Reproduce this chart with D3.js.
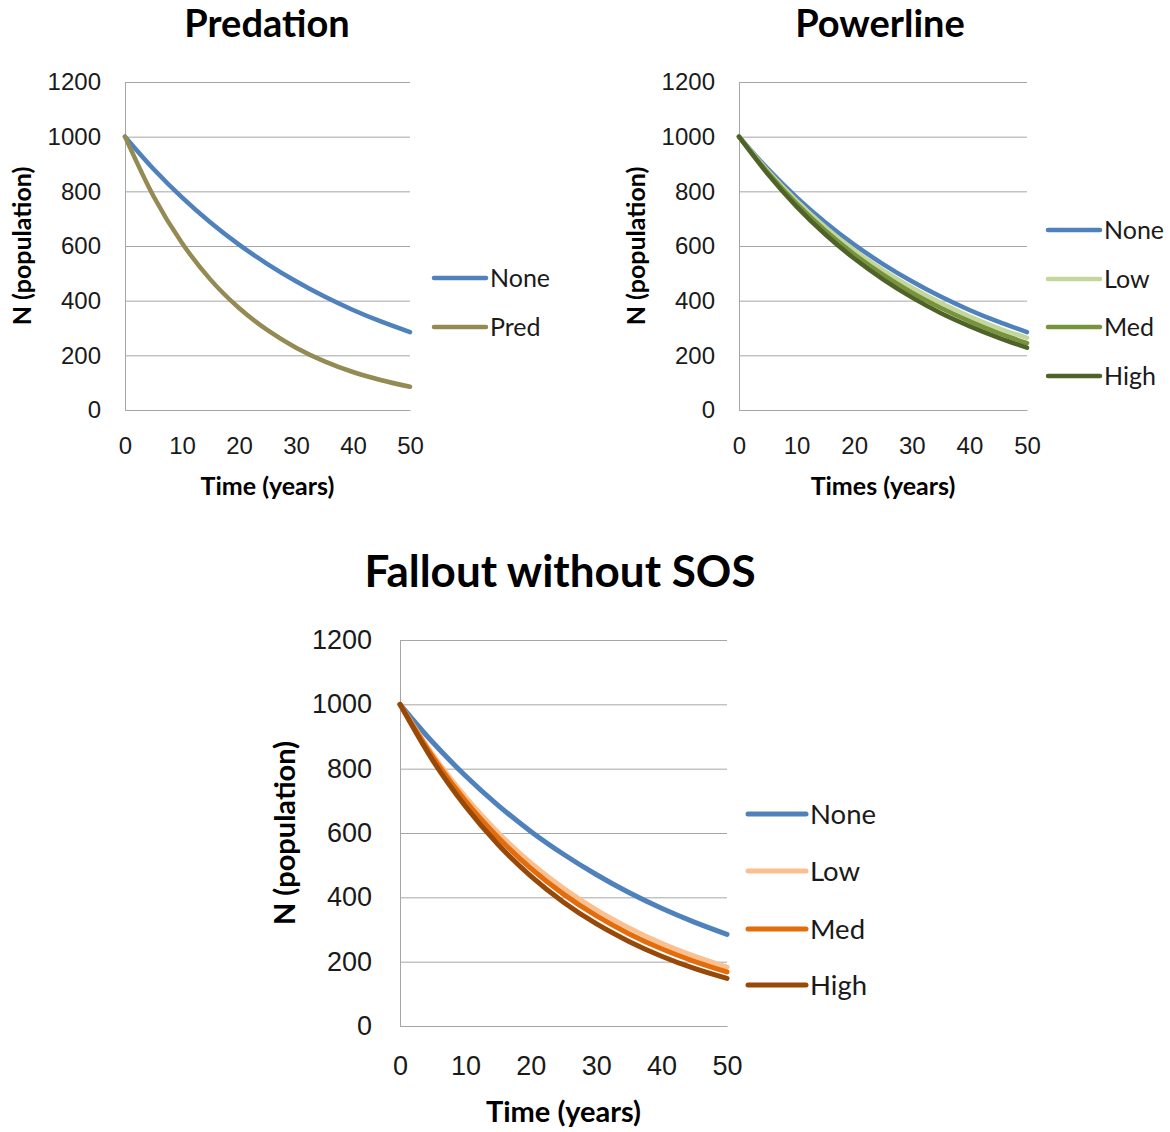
<!DOCTYPE html>
<html>
<head>
<meta charset="utf-8">
<script src="https://cdn.jsdelivr.net/npm/d3@7"></script>
<style>
  body { margin: 0; background: #fff; }
  svg { display: block; font-family: Lato, "Open Sans", sans-serif; }
  .grid line { stroke: #a6a6a6; stroke-width: 1; }
  .grid .domain { stroke: #a6a6a6; stroke-width: 1; }
  .tick text { fill: #1a1a1a; }
</style>
</head>
<body>
<svg id="chart" width="1170" height="1132"></svg>
<script>
// population over time
let years = [0, 5, 10, 15, 20, 25, 30, 35, 40, 45, 50];
let xTicks = [0, 10, 20, 30, 40, 50];
let yTicks = [0, 200, 400, 600, 800, 1000, 1200];

let noneN = [1000, 882, 778, 686, 605, 534, 471, 415, 366, 323, 285];
let predN = [1000, 782, 611, 477, 373, 292, 228, 178, 139, 109, 85];

let powerLowN = [1000, 875, 765, 669, 585, 512, 448, 392, 343, 300, 264];
let powerMedN = [1000, 869, 755, 656, 570, 495, 430, 374, 325, 282, 245];
let powerHighN = [1000, 863, 744, 642, 554, 478, 412, 355, 307, 265, 228];

let falloutLowN = [1000, 844, 712, 601, 507, 428, 361, 305, 257, 217, 183];
let falloutMedN = [1000, 837, 700, 586, 490, 410, 343, 287, 240, 201, 168];
let falloutHighN = [1000, 826, 683, 564, 466, 385, 318, 263, 217, 179, 148];

let svg = d3.select("#chart");

function drawPanel(p) {
    let x = d3.scaleLinear().domain([0, 50]).range([p.left, p.right]);
    let y = d3.scaleLinear().domain([0, 1200]).range([p.bottom, p.top]);

    let g = svg.append("g");

    // title
    g.append("text")
        .attr("x", p.titleX)
        .attr("y", p.titleY)
        .attr("text-anchor", "middle")
        .style("font-size", p.titleSize + "px")
        .style("font-weight", "bold")
        .text(p.title);

    // y gridlines + labels
    g.append("g")
        .attr("class", "grid")
        .attr("transform", "translate(" + p.left + ",0)")
        .call(d3.axisLeft(y).tickValues(yTicks).tickFormat(d3.format("d"))
            .tickSize(-(p.right - p.left)).tickPadding(p.yPad))
        .call(a => a.selectAll("text").style("font-size", p.tickSize + "px"));

    // x axis
    g.append("g")
        .attr("class", "grid")
        .attr("transform", "translate(0," + p.bottom + ")")
        .call(d3.axisBottom(x).tickValues(xTicks).tickFormat(d3.format("d"))
            .tickSize(0).tickPadding(p.xPad))
        .call(a => a.selectAll("text").style("font-size", p.tickSize + "px"));

    // axis titles
    g.append("text")
        .attr("x", (p.left + p.right) / 2)
        .attr("y", p.xTitleY)
        .attr("text-anchor", "middle")
        .style("font-size", p.axisTitleSize + "px")
        .style("font-weight", "bold")
        .text(p.xTitle);

    g.append("text")
        .attr("transform", "translate(" + p.yTitleX + "," + (p.top + p.bottom) / 2 + ") rotate(-90)")
        .attr("text-anchor", "middle")
        .attr("dy", "0.35em")
        .style("font-size", p.axisTitleSize + "px")
        .style("font-weight", "bold")
        .text("N (population)");

    let line = d3.line()
        .x((d, i) => x(years[i]))
        .y(d => y(d))
        .curve(d3.curveMonotoneX);

    p.series.forEach(function(s, i) {
        g.append("path")
            .datum(s.values)
            .attr("fill", "none")
            .attr("stroke", s.color)
            .attr("stroke-width", p.stroke)
            .attr("stroke-linecap", "round")
            .attr("d", line);

        let ly = p.legendY[i];
        g.append("line")
            .attr("x1", p.legendX)
            .attr("x2", p.legendX + p.legendLen)
            .attr("y1", ly)
            .attr("y2", ly)
            .attr("stroke", s.color)
            .attr("stroke-width", p.stroke)
            .attr("stroke-linecap", "round");
        g.append("text")
            .attr("x", p.legendX + p.legendLen + 4)
            .attr("y", ly)
            .attr("dy", "0.35em")
            .style("font-size", p.legendSize + "px")
            .style("fill", "#1a1a1a")
            .text(s.name);
    });
}

drawPanel({
    title: "Predation", titleX: 267, titleY: 37, titleSize: 38,
    left: 125, right: 410, top: 82, bottom: 410,
    tickSize: 24, yPad: 24, xPad: 27,
    xTitle: "Time (years)", xTitleY: 495, yTitleX: 22, axisTitleSize: 25,
    stroke: 4.5, legendX: 434, legendLen: 52, legendY: [278, 327], legendSize: 25,
    series: [
        { name: "None", values: noneN, color: "#4f81bd" },
        { name: "Pred", values: predN, color: "#948a54" }
    ]
});

drawPanel({
    title: "Powerline", titleX: 880, titleY: 37, titleSize: 38,
    left: 739, right: 1027, top: 82, bottom: 410,
    tickSize: 24, yPad: 24, xPad: 27,
    xTitle: "Times (years)", xTitleY: 495, yTitleX: 636, axisTitleSize: 25,
    stroke: 4.5, legendX: 1048, legendLen: 52, legendY: [230, 279, 327, 376], legendSize: 25,
    series: [
        { name: "None", values: noneN, color: "#4f81bd" },
        { name: "Low", values: powerLowN, color: "#c3d69b" },
        { name: "Med", values: powerMedN, color: "#77933c" },
        { name: "High", values: powerHighN, color: "#4f6228" }
    ]
});

drawPanel({
    title: "Fallout without SOS", titleX: 560, titleY: 587, titleSize: 44,
    left: 400, right: 727, top: 640, bottom: 1026,
    tickSize: 27, yPad: 28, xPad: 30,
    xTitle: "Time (years)", xTitleY: 1122, yTitleX: 285, axisTitleSize: 29,
    stroke: 5, legendX: 748, legendLen: 58, legendY: [814, 871, 929, 985], legendSize: 27.5,
    series: [
        { name: "None", values: noneN, color: "#4f81bd" },
        { name: "Low", values: falloutLowN, color: "#fac090" },
        { name: "Med", values: falloutMedN, color: "#e46c0a" },
        { name: "High", values: falloutHighN, color: "#984807" }
    ]
});
</script>
</body>
</html>
